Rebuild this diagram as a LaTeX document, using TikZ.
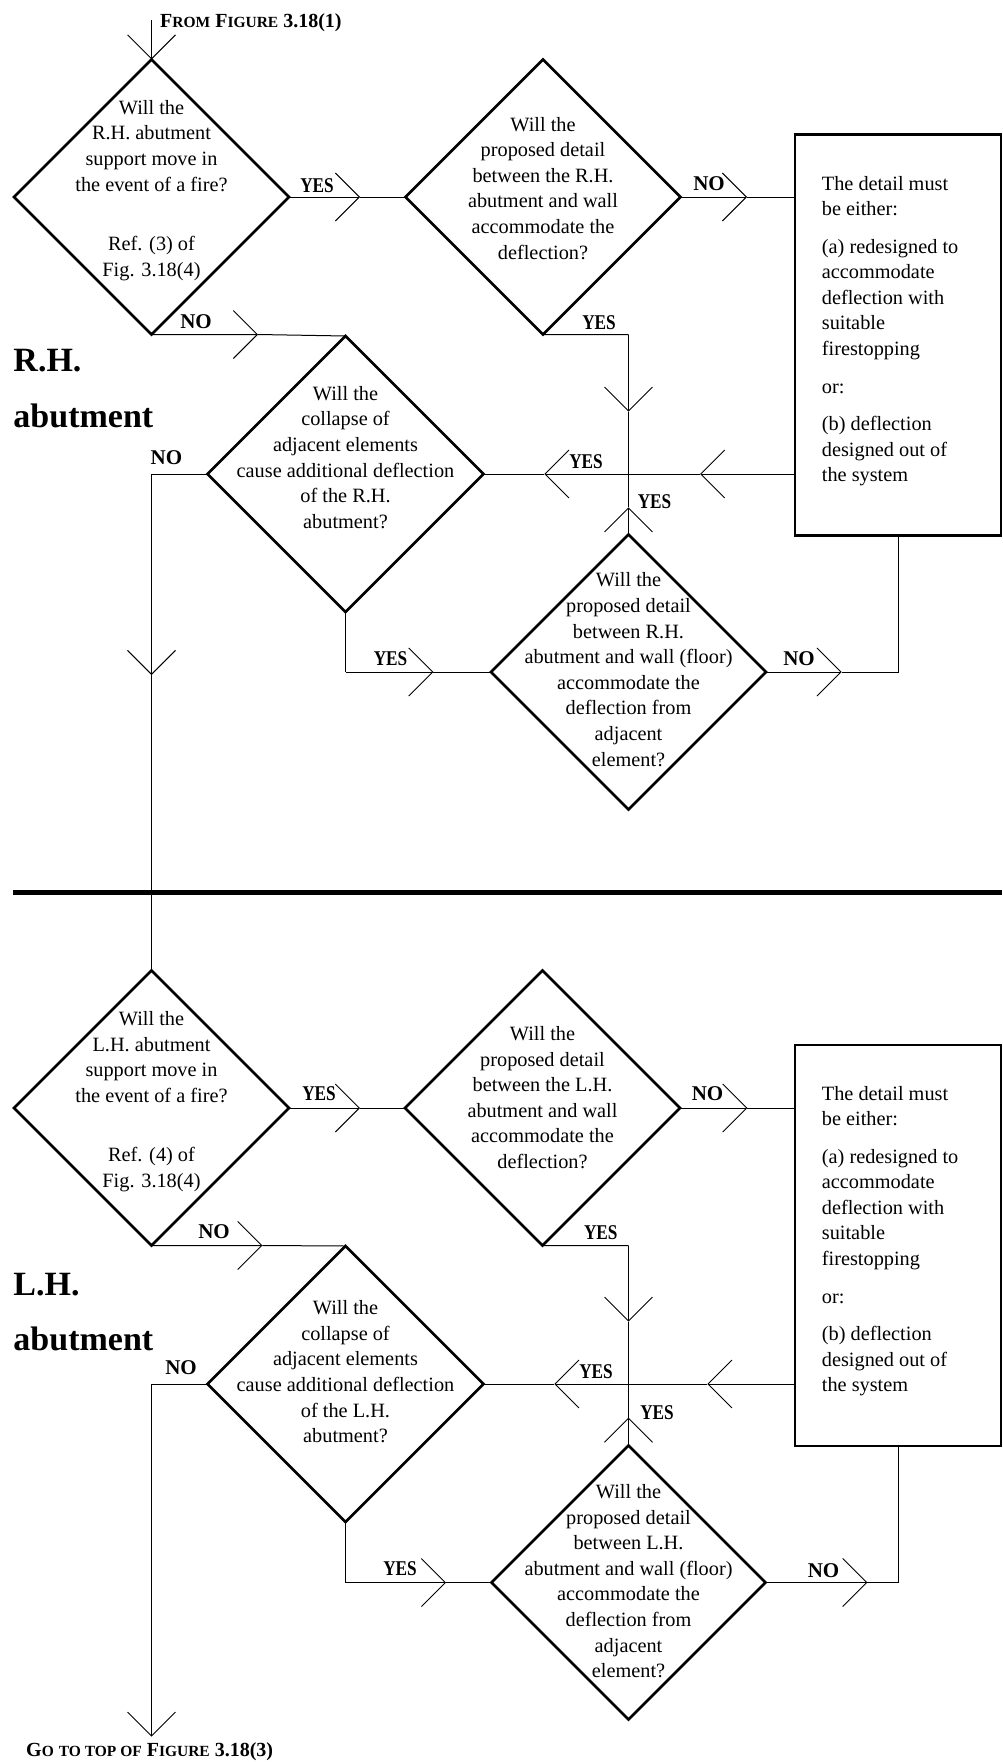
\documentclass[tikz,border=0pt]{standalone}
\usepackage{fontspec}
\usepackage{graphicx}
\setmainfont{Liberation Serif}
\usetikzlibrary{shapes.geometric,arrows.meta}
\newcommand\scw[2]{{\fontsize{20bp}{24bp}\selectfont #1}{\fontsize{15.5bp}{18bp}\selectfont #2}}
\newcommand\yeslab{\scalebox{0.82}[1]{YES}}
\begin{document}
\begin{tikzpicture}[x=1bp,y=-1bp,
  dia/.style={draw, shape=diamond, line width=2.6bp, minimum width=275bp, minimum height=275bp, inner sep=0pt, outer sep=0pt},
  boxs/.style={draw, rectangle, line width=2.6bp, minimum width=206bp, minimum height=401bp, inner sep=0pt, outer sep=0pt},
  conn/.style={line width=1bp},
  vtip/.style={-{Straight Barb[length=24bp,width=48bp,line width=0.9bp]}},
  dtext/.style={font=\fontsize{20.3bp}{25.6bp}\selectfont, align=center, anchor=base, inner sep=0pt},
  btext/.style={font=\fontsize{20.3bp}{25.4bp}\selectfont, align=left, anchor=base west, inner sep=0pt},
  lab/.style={font=\fontsize{21bp}{24bp}\selectfont\bfseries, anchor=base, inner sep=0pt},
  big/.style={font=\fontsize{34bp}{40bp}\selectfont\bfseries, anchor=base west, inner sep=0pt},
  head/.style={font=\fontsize{20bp}{24bp}\selectfont\bfseries, anchor=base west, inner sep=0pt}
]
\useasboundingbox (0,0) rectangle (1002,1762);

% ---------------- upper half: R.H. abutment ----------------
\node[dia] (d1) at (151.5,197) {};
\node[dia] (d2) at (543,197) {};
\node[dia, minimum width=276bp, minimum height=276bp] (d3) at (345.5,474) {};
\node[dia] (d4) at (628.5,672) {};
\node[boxs] (b1) at (898,335) {};

% multi-line texts are anchored on the baseline of their last line
\node[dtext] (d1t) at (151.5,276) {Will the\\R.H. abutment\\support move in\\the event of a fire?\\[33.7bp]Ref. (3) of\\Fig. 3.18(4)};
\node[dtext] (d2t) at (543,259) {Will the\\proposed detail\\between the R.H.\\abutment and wall\\accommodate the\\deflection?};
\node[dtext] (d3t) at (345.5,528.3) {Will the\\collapse of\\adjacent elements\\cause additional deflection\\of the R.H.\\abutment?};
\node[dtext] (d4t) at (628.5,766) {Will the\\proposed detail\\between R.H.\\abutment and wall (floor)\\accommodate the\\deflection from\\adjacent\\element?};
\node[btext] (b1t) at (821.7,481.7) {The detail must\\be either:\\[12.5bp](a) redesigned to\\accommodate\\deflection with\\suitable\\firestopping\\[12.5bp]or:\\[12.5bp](b) deflection\\designed out of\\the system};

\node[head] (from) at (160,27) {\scw{F}{ROM} \scw{F}{IGURE} 3.18(1)};
\node[big] (rh1) at (13.3,371.7) {R.H.};
\node[big] (rh2) at (13.3,427.7) {abutment};

\coordinate (top1) at (151.5,20);
\coordinate (t1) at (360,197);
\coordinate (t2) at (747,197);
\coordinate (t3) at (258,334.5);
\coordinate (c3) at (151.5,474);
\coordinate (t4) at (151.5,675);
\coordinate (c5) at (628.5,334.5);
\coordinate (t5) at (628.5,411.7);
\coordinate (j1) at (628.5,474);
\coordinate (t6) at (628.5,507.3);
\coordinate (t7) at (700,474);
\coordinate (t8) at (544.3,474);
\coordinate (c9) at (345.5,672);
\coordinate (t9) at (433.3,672);
\coordinate (t10) at (841.6,672);
\coordinate (c10) at (898,672);

\draw[conn,vtip] (top1) -- (d1.north);
\draw[conn,vtip] (d1.east) -- (t1); \draw[conn] (t1) -- (d2.west);
\draw[conn,vtip] (d2.east) -- (t2); \draw[conn] (t2) -- (d2.east -| b1.west);
\draw[conn,vtip] (d1.south) -- (t3); \draw[conn] (t3) -- (d3.north);
\draw[conn] (d3.west) -- (c3); \draw[conn,vtip] (c3) -- (t4);
\draw[conn] (d2.south) -- (c5); \draw[conn,vtip] (c5) -- (t5); \draw[conn] (t5) -- (j1);
\draw[conn,vtip] (d4.north) -- (t6); \draw[conn] (t6) -- (j1);
\draw[conn,vtip] (b1.west |- j1) -- (t7); \draw[conn] (t7) -- (j1);
\draw[conn,vtip] (j1) -- (t8); \draw[conn] (t8) -- (d3.east);
\draw[conn] (d3.south) -- (c9); \draw[conn,vtip] (c9) -- (t9); \draw[conn] (t9) -- (d4.west);
\draw[conn,vtip] (d4.east) -- (t10); \draw[conn] (t10) -- (c10) -- (b1.south);

\node[lab] (l1) at (317,192) {\yeslab};
\node[lab] (l2) at (196,328) {NO};
\node[lab] (l3) at (709,190) {NO};
\node[lab] (l4) at (599,329) {\yeslab};
\node[lab] (l5) at (586,468) {\yeslab};
\node[lab] (l6) at (654.5,508) {\yeslab};
\node[lab] (l7) at (166.4,464) {NO};
\node[lab] (l8) at (390.5,665) {\yeslab};
\node[lab] (l9) at (799,665) {NO};

% ---------------- separator ----------------
\draw[line width=5bp] (13,892.3) -- (1002,892.3);

% ---------------- lower half: L.H. abutment ----------------
\node[dia] (d5) at (151.5,1108) {};
\node[dia] (d6) at (542.5,1108) {};
\node[dia, minimum width=276bp, minimum height=276bp] (d7) at (345.5,1384) {};
\node[dia, minimum width=274bp, minimum height=274bp] (d8) at (628.5,1582.5) {};
\node[boxs] (b2) at (898,1245.5) {};

\draw[conn] (t4) -- (d5.north);

\node[dtext] (d5t) at (151.5,1187.3) {Will the\\L.H. abutment\\support move in\\the event of a fire?\\[33.7bp]Ref. (4) of\\Fig. 3.18(4)};
\node[dtext] (d6t) at (542.5,1168.5) {Will the\\proposed detail\\between the L.H.\\abutment and wall\\accommodate the\\deflection?};
\node[dtext] (d7t) at (345.5,1442.7) {Will the\\collapse of\\adjacent elements\\cause additional deflection\\of the L.H.\\abutment?};
\node[dtext] (d8t) at (628.5,1677.7) {Will the\\proposed detail\\between L.H.\\abutment and wall (floor)\\accommodate the\\deflection from\\adjacent\\element?};
\node[btext] (b2t) at (821.7,1391.7) {The detail must\\be either:\\[12.5bp](a) redesigned to\\accommodate\\deflection with\\suitable\\firestopping\\[12.5bp]or:\\[12.5bp](b) deflection\\designed out of\\the system};

\node[big] (lh1) at (13.3,1295) {L.H.};
\node[big] (lh2) at (13.3,1350) {abutment};
\node[head] (goto) at (26,1756.7) {\scw{G}{O} \scw{}{TO TOP OF} \scw{F}{IGURE} 3.18(3)};

\coordinate (t11) at (360,1108);
\coordinate (t12) at (747.3,1108);
\coordinate (t13) at (262.3,1245.5);
\coordinate (c14) at (151.5,1384);
\coordinate (t14) at (151.5,1736.7);
\coordinate (c15) at (628.5,1245.5);
\coordinate (t15) at (628.5,1321.7);
\coordinate (j2) at (628.5,1384);
\coordinate (t16) at (628.5,1417.7);
\coordinate (t17) at (707.3,1384);
\coordinate (t18) at (554.3,1384);
\coordinate (c19) at (345.5,1582.5);
\coordinate (t19) at (446,1582.5);
\coordinate (t20) at (867.3,1582.5);
\coordinate (c20) at (898,1582.5);

\draw[conn,vtip] (d5.east) -- (t11); \draw[conn] (t11) -- (d6.west);
\draw[conn,vtip] (d6.east) -- (t12); \draw[conn] (t12) -- (d6.east -| b2.west);
\draw[conn,vtip] (d5.south) -- (t13); \draw[conn] (t13) -- (d7.north);
\draw[conn] (d7.west) -- (c14); \draw[conn,vtip] (c14) -- (t14);
\draw[conn] (d6.south) -- (c15); \draw[conn,vtip] (c15) -- (t15); \draw[conn] (t15) -- (j2);
\draw[conn,vtip] (d8.north) -- (t16); \draw[conn] (t16) -- (j2);
\draw[conn,vtip] (b2.west |- j2) -- (t17); \draw[conn] (t17) -- (j2);
\draw[conn,vtip] (j2) -- (t18); \draw[conn] (t18) -- (d7.east);
\draw[conn] (d7.south) -- (c19); \draw[conn,vtip] (c19) -- (t19); \draw[conn] (t19) -- (d8.west);
\draw[conn,vtip] (d8.east) -- (t20); \draw[conn] (t20) -- (c20) -- (b2.south);

\node[lab] (l11) at (319,1100.7) {\yeslab};
\node[lab] (l12) at (707.5,1100) {NO};
\node[lab] (l13) at (214,1238.3) {NO};
\node[lab] (l14) at (600.8,1239.3) {\yeslab};
\node[lab] (l15) at (596,1378.3) {\yeslab};
\node[lab] (l16) at (657,1419) {\yeslab};
\node[lab] (l17) at (181,1374) {NO};
\node[lab] (l18) at (400,1575.7) {\yeslab};
\node[lab] (l19) at (823.5,1577.3) {NO};
\end{tikzpicture}
\end{document}
